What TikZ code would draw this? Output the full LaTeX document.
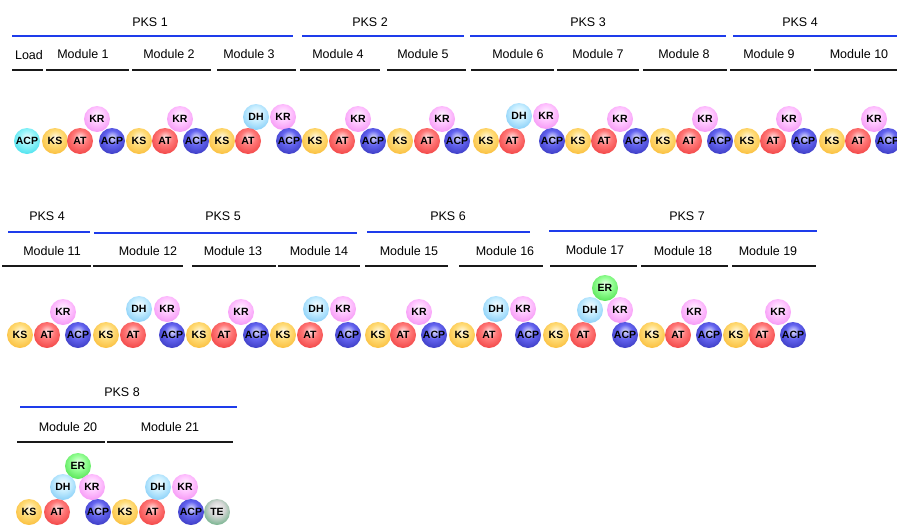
\documentclass[tikz,border=0pt]{standalone}
\usepackage{fontspec}
\setmainfont{Liberation Sans}
\usetikzlibrary{shadings}
\definecolor{sphin}{RGB}{255,255,255}
\definecolor{sphout}{RGB}{0,0,0}
\pgfdeclareradialshading[sphin,sphout]{sphere}{\pgfpoint{0bp}{8bp}}{%
  color(0bp)=(sphin!20!white); color(14bp)=(sphin); color(34bp)=(sphout!60!sphin);
  color(48bp)=(sphout); color(58bp)=(sphout!80!black); color(70bp)=(sphout!80!black)}
\definecolor{pksblue}{RGB}{30,60,235}
\definecolor{modline}{RGB}{25,25,25}
\tikzset{
  sph in/.code={\colorlet{sphin}{#1}},
  sph out/.code={\colorlet{sphout}{#1}},
  dom/.style={circle, minimum size=26pt, inner sep=0pt, shading=sphere,
    font=\fontsize{10.5}{11}\selectfont\bfseries, text=black},
  dLoad/.style={dom, sph in={rgb,255:red,150;green,245;blue,250}, sph out={rgb,255:red,0;green,205;blue,225}},
  dKS/.style={dom, sph in={rgb,255:red,255;green,220;blue,120}, sph out={rgb,255:red,245;green,160;blue,0}},
  dAT/.style={dom, sph in={rgb,255:red,255;green,120;blue,120}, sph out={rgb,255:red,228;green,18;blue,18}},
  dACP/.style={dom, sph in={rgb,255:red,100;green,100;blue,240}, sph out={rgb,255:red,20;green,20;blue,150}},
  dKR/.style={dom, sph in={rgb,255:red,255;green,200;blue,255}, sph out={rgb,255:red,235;green,100;blue,235}},
  dDH/.style={dom, sph in={rgb,255:red,200;green,238;blue,255}, sph out={rgb,255:red,70;green,175;blue,240}},
  dER/.style={dom, sph in={rgb,255:red,150;green,255;blue,150}, sph out={rgb,255:red,20;green,200;blue,20}},
  dTE/.style={dom, sph in={rgb,255:red,215;green,215;blue,215}, sph out={rgb,255:red,10;green,140;blue,60}},
  pkslabel/.style={font=\fontsize{12.5}{14}\selectfont, inner sep=0pt},
  modlabel/.style={font=\fontsize{12.5}{14}\selectfont, inner sep=0pt},
  pksline/.style={draw=pksblue, line width=1.8pt},
  modbar/.style={draw=modline, line width=1.8pt},
}
\begin{document}
\begin{tikzpicture}[x=1pt,y=-1pt]
\useasboundingbox (0,0) rectangle (897,525);
% ---------------- Row 1 headers
\node[pkslabel] (p1) at (150,22) {PKS 1};
\node[pkslabel] (p2) at (370,22) {PKS 2};
\node[pkslabel] (p3) at (588,22) {PKS 3};
\node[pkslabel] (p4a) at (800,22) {PKS 4};
\draw[pksline] (12,36) -- (293,36);
\draw[pksline] (302,36) -- (464,36);
\draw[pksline] (470,36) -- (726,36);
\draw[pksline] (733,36) -- (897,36);
\node[modlabel] (mLoad) at (29,55) {Load};
\node[modlabel] (m1) at (83,54) {Module 1};
\node[modlabel] (m2) at (169,54) {Module 2};
\node[modlabel] (m3) at (249,54) {Module 3};
\node[modlabel] (m4) at (338,54) {Module 4};
\node[modlabel] (m5) at (423,54) {Module 5};
\node[modlabel] (m6) at (518,54) {Module 6};
\node[modlabel] (m7) at (598,54) {Module 7};
\node[modlabel] (m8) at (684,54) {Module 8};
\node[modlabel] (m9) at (769,54) {Module 9};
\node[modlabel] (m10) at (859,54) {Module 10};
\foreach \a/\b in {12/43,46/129,132/211,217/296,300/380,387/466,471/554,557/639,643/727,730/811,814/897}
  \draw[modbar] (\a,70) -- (\b,70);
% ---------------- Row 1 domains
\node[dKR] (kr1) at (97,119) {KR};
\node[dKR] (kr2) at (180,119) {KR};
\node[dDH] (dh3) at (256,117) {DH};
\node[dKR] (kr3) at (283,117) {KR};
\node[dKR] (kr4) at (358,119) {KR};
\node[dKR] (kr5) at (442,119) {KR};
\node[dDH] (dh6) at (519,116) {DH};
\node[dKR] (kr6) at (546,116) {KR};
\node[dKR] (kr7) at (620,119) {KR};
\node[dKR] (kr8) at (705,119) {KR};
\node[dKR] (kr9) at (789,119) {KR};
\node[dKR] (kr10) at (874,119) {KR};
\node[dLoad] (acp0) at (27,141) {ACP};
\node[dKS] (ks1) at (55,141) {KS};
\node[dAT] (at1) at (80,141) {AT};
\node[dACP] (acp1) at (112,141) {ACP};
\node[dKS] (ks2) at (139,141) {KS};
\node[dAT] (at2) at (165,141) {AT};
\node[dACP] (acp2) at (196,141) {ACP};
\node[dKS] (ks3) at (222,141) {KS};
\node[dAT] (at3) at (248,141) {AT};
\node[dACP] (acp3) at (289,141) {ACP};
\node[dKS] (ks4) at (315,141) {KS};
\node[dAT] (at4) at (342,141) {AT};
\node[dACP] (acp4) at (373,141) {ACP};
\node[dKS] (ks5) at (400,141) {KS};
\node[dAT] (at5) at (427,141) {AT};
\node[dACP] (acp5) at (457,141) {ACP};
\node[dKS] (ks6) at (486,141) {KS};
\node[dAT] (at6) at (512,141) {AT};
\node[dACP] (acp6) at (552,141) {ACP};
\node[dKS] (ks7) at (578,141) {KS};
\node[dAT] (at7) at (604,141) {AT};
\node[dACP] (acp7) at (636,141) {ACP};
\node[dKS] (ks8) at (663,141) {KS};
\node[dAT] (at8) at (689,141) {AT};
\node[dACP] (acp8) at (720,141) {ACP};
\node[dKS] (ks9) at (747,141) {KS};
\node[dAT] (at9) at (773,141) {AT};
\node[dACP] (acp9) at (804,141) {ACP};
\node[dKS] (ks10) at (832,141) {KS};
\node[dAT] (at10) at (858,141) {AT};
\node[dACP] (acp10) at (888,141) {ACP};
% ---------------- Row 2 headers
\node[pkslabel] (p4b) at (47,216) {PKS 4};
\node[pkslabel] (p5) at (223,216) {PKS 5};
\node[pkslabel] (p6) at (448,216) {PKS 6};
\node[pkslabel] (p7) at (687,216) {PKS 7};
\draw[pksline] (8,232) -- (90,232);
\draw[pksline] (94,233) -- (357,233);
\draw[pksline] (367,232) -- (530,232);
\draw[pksline] (549,231) -- (817,231);
\node[modlabel] (m11) at (52,251) {Module 11};
\node[modlabel] (m12) at (148,251) {Module 12};
\node[modlabel] (m13) at (233,251) {Module 13};
\node[modlabel] (m14) at (319,251) {Module 14};
\node[modlabel] (m15) at (409,251) {Module 15};
\node[modlabel] (m16) at (505,251) {Module 16};
\node[modlabel] (m17) at (595,250) {Module 17};
\node[modlabel] (m18) at (683,251) {Module 18};
\node[modlabel] (m19) at (768,251) {Module 19};
\foreach \a/\b in {2/91,93/183,192/276,278/360,365/448,459/543,550/637,641/728,732/816}
  \draw[modbar] (\a,266) -- (\b,266);
% ---------------- Row 2 domains
\node[dER] (er17) at (605,288) {ER};
\node[dKR] (kr11) at (63,312) {KR};
\node[dDH] (dh12) at (139,309) {DH};
\node[dKR] (kr12) at (167,309) {KR};
\node[dKR] (kr13) at (241,312) {KR};
\node[dDH] (dh14) at (316,309) {DH};
\node[dKR] (kr14) at (343,309) {KR};
\node[dKR] (kr15) at (419,312) {KR};
\node[dDH] (dh16) at (496,309) {DH};
\node[dKR] (kr16) at (523,309) {KR};
\node[dDH] (dh17) at (590,310) {DH};
\node[dKR] (kr17) at (620,310) {KR};
\node[dKR] (kr18) at (694,312) {KR};
\node[dKR] (kr19) at (778,312) {KR};
\node[dKS] (ks11) at (20,335) {KS};
\node[dAT] (at11) at (47,335) {AT};
\node[dACP] (acp11) at (78,335) {ACP};
\node[dKS] (ks12) at (106,335) {KS};
\node[dAT] (at12) at (133,335) {AT};
\node[dACP] (acp12) at (172,335) {ACP};
\node[dKS] (ks13) at (199,335) {KS};
\node[dAT] (at13) at (224,335) {AT};
\node[dACP] (acp13) at (256,335) {ACP};
\node[dKS] (ks14) at (283,335) {KS};
\node[dAT] (at14) at (310,335) {AT};
\node[dACP] (acp14) at (348,335) {ACP};
\node[dKS] (ks15) at (378,335) {KS};
\node[dAT] (at15) at (403,335) {AT};
\node[dACP] (acp15) at (434,335) {ACP};
\node[dKS] (ks16) at (462,335) {KS};
\node[dAT] (at16) at (489,335) {AT};
\node[dACP] (acp16) at (528,335) {ACP};
\node[dKS] (ks17) at (556,335) {KS};
\node[dAT] (at17) at (583,335) {AT};
\node[dACP] (acp17) at (625,335) {ACP};
\node[dKS] (ks18) at (652,335) {KS};
\node[dAT] (at18) at (678,335) {AT};
\node[dACP] (acp18) at (709,335) {ACP};
\node[dKS] (ks19) at (736,335) {KS};
\node[dAT] (at19) at (762,335) {AT};
\node[dACP] (acp19) at (793,335) {ACP};
% ---------------- Row 3 headers
\node[pkslabel] (p8) at (122,392) {PKS 8};
\draw[pksline] (20,407) -- (237,407);
\node[modlabel] (m20) at (68,427) {Module 20};
\node[modlabel] (m21) at (170,427) {Module 21};
\draw[modbar] (17,442) -- (105,442);
\draw[modbar] (107,442) -- (233,442);
% ---------------- Row 3 domains
\node[dER] (er20) at (78,466) {ER};
\node[dDH] (dh20) at (63,487) {DH};
\node[dKR] (kr20) at (92,487) {KR};
\node[dDH] (dh21) at (158,487) {DH};
\node[dKR] (kr21) at (185,487) {KR};
\node[dKS] (ks20) at (29,512) {KS};
\node[dAT] (at20) at (57,512) {AT};
\node[dACP] (acp20) at (98,512) {ACP};
\node[dKS] (ks21) at (125,512) {KS};
\node[dAT] (at21) at (152,512) {AT};
\node[dACP] (acp21) at (191,512) {ACP};
\node[dTE] (te21) at (217,512) {TE};
\end{tikzpicture}
\end{document}
